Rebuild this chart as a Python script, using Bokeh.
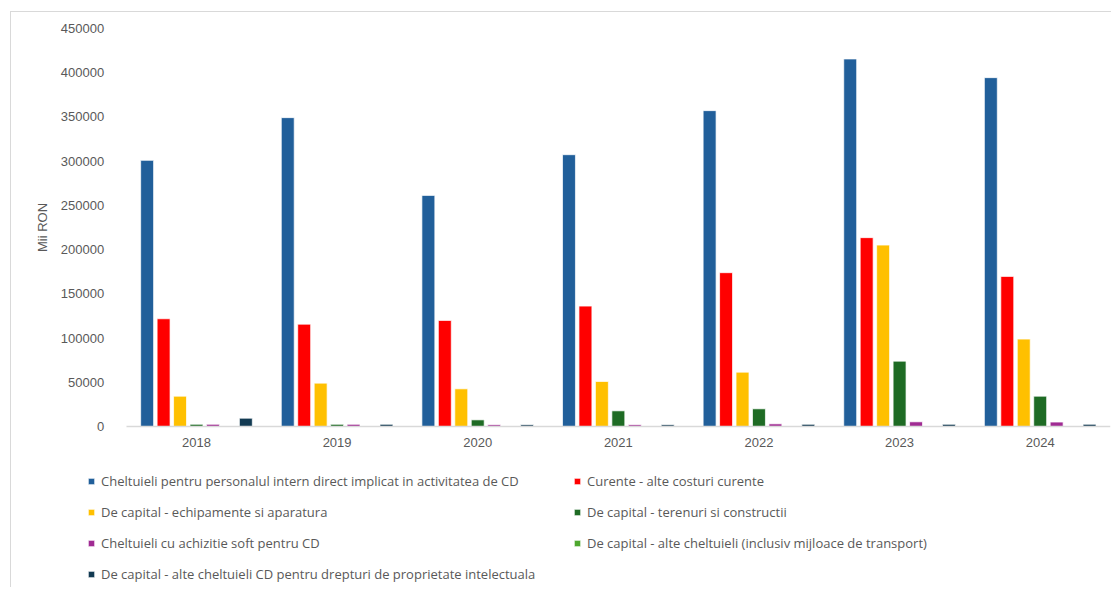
from bokeh.plotting import figure
from bokeh.models import ColumnDataSource, Legend, LegendItem, Range1d, FixedTicker, BasicTickFormatter
from bokeh.transform import dodge
from bokeh.embed import file_html
from bokeh.resources import INLINE

years = ["2018", "2019", "2020", "2021", "2022", "2023", "2024"]

personal = [300900, 349200, 261300, 307300, 357100, 415500, 394400]
curente = [121800, 115700, 119900, 136100, 173900, 213500, 169700]
echipamente = [34300, 49000, 42600, 50900, 61400, 205100, 98800]
terenuri = [2500, 2500, 7500, 17700, 20000, 73900, 34300]
soft = [2500, 2500, 2000, 2000, 3000, 5300, 5000]
alte_transport = [0, 0, 0, 0, 0, 0, 0]
proprietate = [9400, 2500, 2000, 2000, 2500, 2500, 2500]

series_names = [
    "Cheltuieli pentru personalul intern direct implicat in activitatea de CD",
    "Curente - alte costuri curente",
    "De capital - echipamente si aparatura",
    "De capital - terenuri si constructii",
    "Cheltuieli cu achizitie soft pentru CD",
    "De capital - alte cheltuieli (inclusiv mijloace de transport)",
    "De capital - alte cheltuieli CD pentru drepturi de proprietate intelectuala",
]
series_values = [personal, curente, echipamente, terenuri, soft, alte_transport, proprietate]
colors = ["#215f9a", "#ff0000", "#ffc000", "#1e6b24", "#a02b93", "#4ea72e", "#123a52"]
y_ticks = [0, 50000, 100000, 150000, 200000, 250000, 300000, 350000, 400000, 450000]

idx = list(range(len(years)))
data = {"idx": idx, "year": years}
for i, vals in enumerate(series_values):
    data["s%d" % i] = vals
src = ColumnDataSource(data)

TXT = "#595959"
FONT = "Liberation Sans"

# frame covers the whole canvas so the legend below the axis is not clipped;
# axes are pinned at x=-0.5 (left of first group) and y=0
p = figure(x_range=Range1d(-1.28, 6.5), y_range=Range1d(-177500, 462400),
           width=1101, height=576, output_backend="svg", toolbar_location=None,
           min_border_left=5, min_border_right=2, min_border_top=5, min_border_bottom=5)
p.styles = {"border-top": "1px solid #d9d9d9", "border-left": "1px solid #d9d9d9"}
p.margin = (11, 0, 0, 10)
p.outline_line_color = None
p.xgrid.visible = False
p.ygrid.visible = False

step = 0.117
items = []
for i, (name, col) in enumerate(zip(series_names, colors)):
    r = p.vbar(x=dodge("idx", (i - 3) * step), top="s%d" % i, width=0.092,
               source=src, fill_color=col, line_color="white", line_alpha=0.7, line_width=1)
    items.append(LegendItem(label=name, renderers=[r]))

# legend fills column by column: reorder so it reads row by row like the original
order = list(range(0, len(items), 2)) + list(range(1, len(items), 2))
legend = Legend(items=[items[k] for k in order], location=(71, 0), ncols=2,
                glyph_width=8, glyph_height=8, label_height=8, spacing=13,
                label_standoff=6, label_width=459, padding=0, margin=0,
                border_line_alpha=0, background_fill_alpha=0,
                label_text_font="Open Sans", label_text_font_size="13px", label_text_color=TXT)
p.add_layout(legend, "center")

p.yaxis.fixed_location = -0.5
p.yaxis.bounds = (0, 450000)
p.yaxis.ticker = FixedTicker(ticks=y_ticks)
p.yaxis.formatter = BasicTickFormatter(use_scientific=False)
p.yaxis.axis_line_color = None
p.yaxis.major_tick_line_color = None
p.yaxis.minor_tick_line_color = None
p.yaxis.major_label_standoff = 16
p.yaxis.axis_label = "Mii RON"
p.yaxis.axis_label_standoff = 8
p.yaxis.axis_label_text_font = FONT
p.yaxis.axis_label_text_font_style = "normal"
p.yaxis.axis_label_text_font_size = "13px"
p.yaxis.axis_label_text_color = TXT
p.yaxis.major_label_text_font = FONT
p.yaxis.major_label_text_font_size = "13px"
p.yaxis.major_label_text_color = TXT

p.xaxis.fixed_location = 0
p.xaxis.bounds = (-0.5, 6.5)
p.xaxis.ticker = FixedTicker(ticks=idx)
p.xaxis.major_label_overrides = {i: y for i, y in zip(idx, years)}
p.xaxis.axis_line_color = "#d9d9d9"
p.xaxis.axis_line_width = 1.5
p.xaxis.major_tick_line_color = None
p.xaxis.minor_tick_line_color = None
p.xaxis.major_label_standoff = 6
p.xaxis.major_label_text_font = FONT
p.xaxis.major_label_text_font_size = "13px"
p.xaxis.major_label_text_color = TXT

open("out.html", "w").write(file_html(p, INLINE))
